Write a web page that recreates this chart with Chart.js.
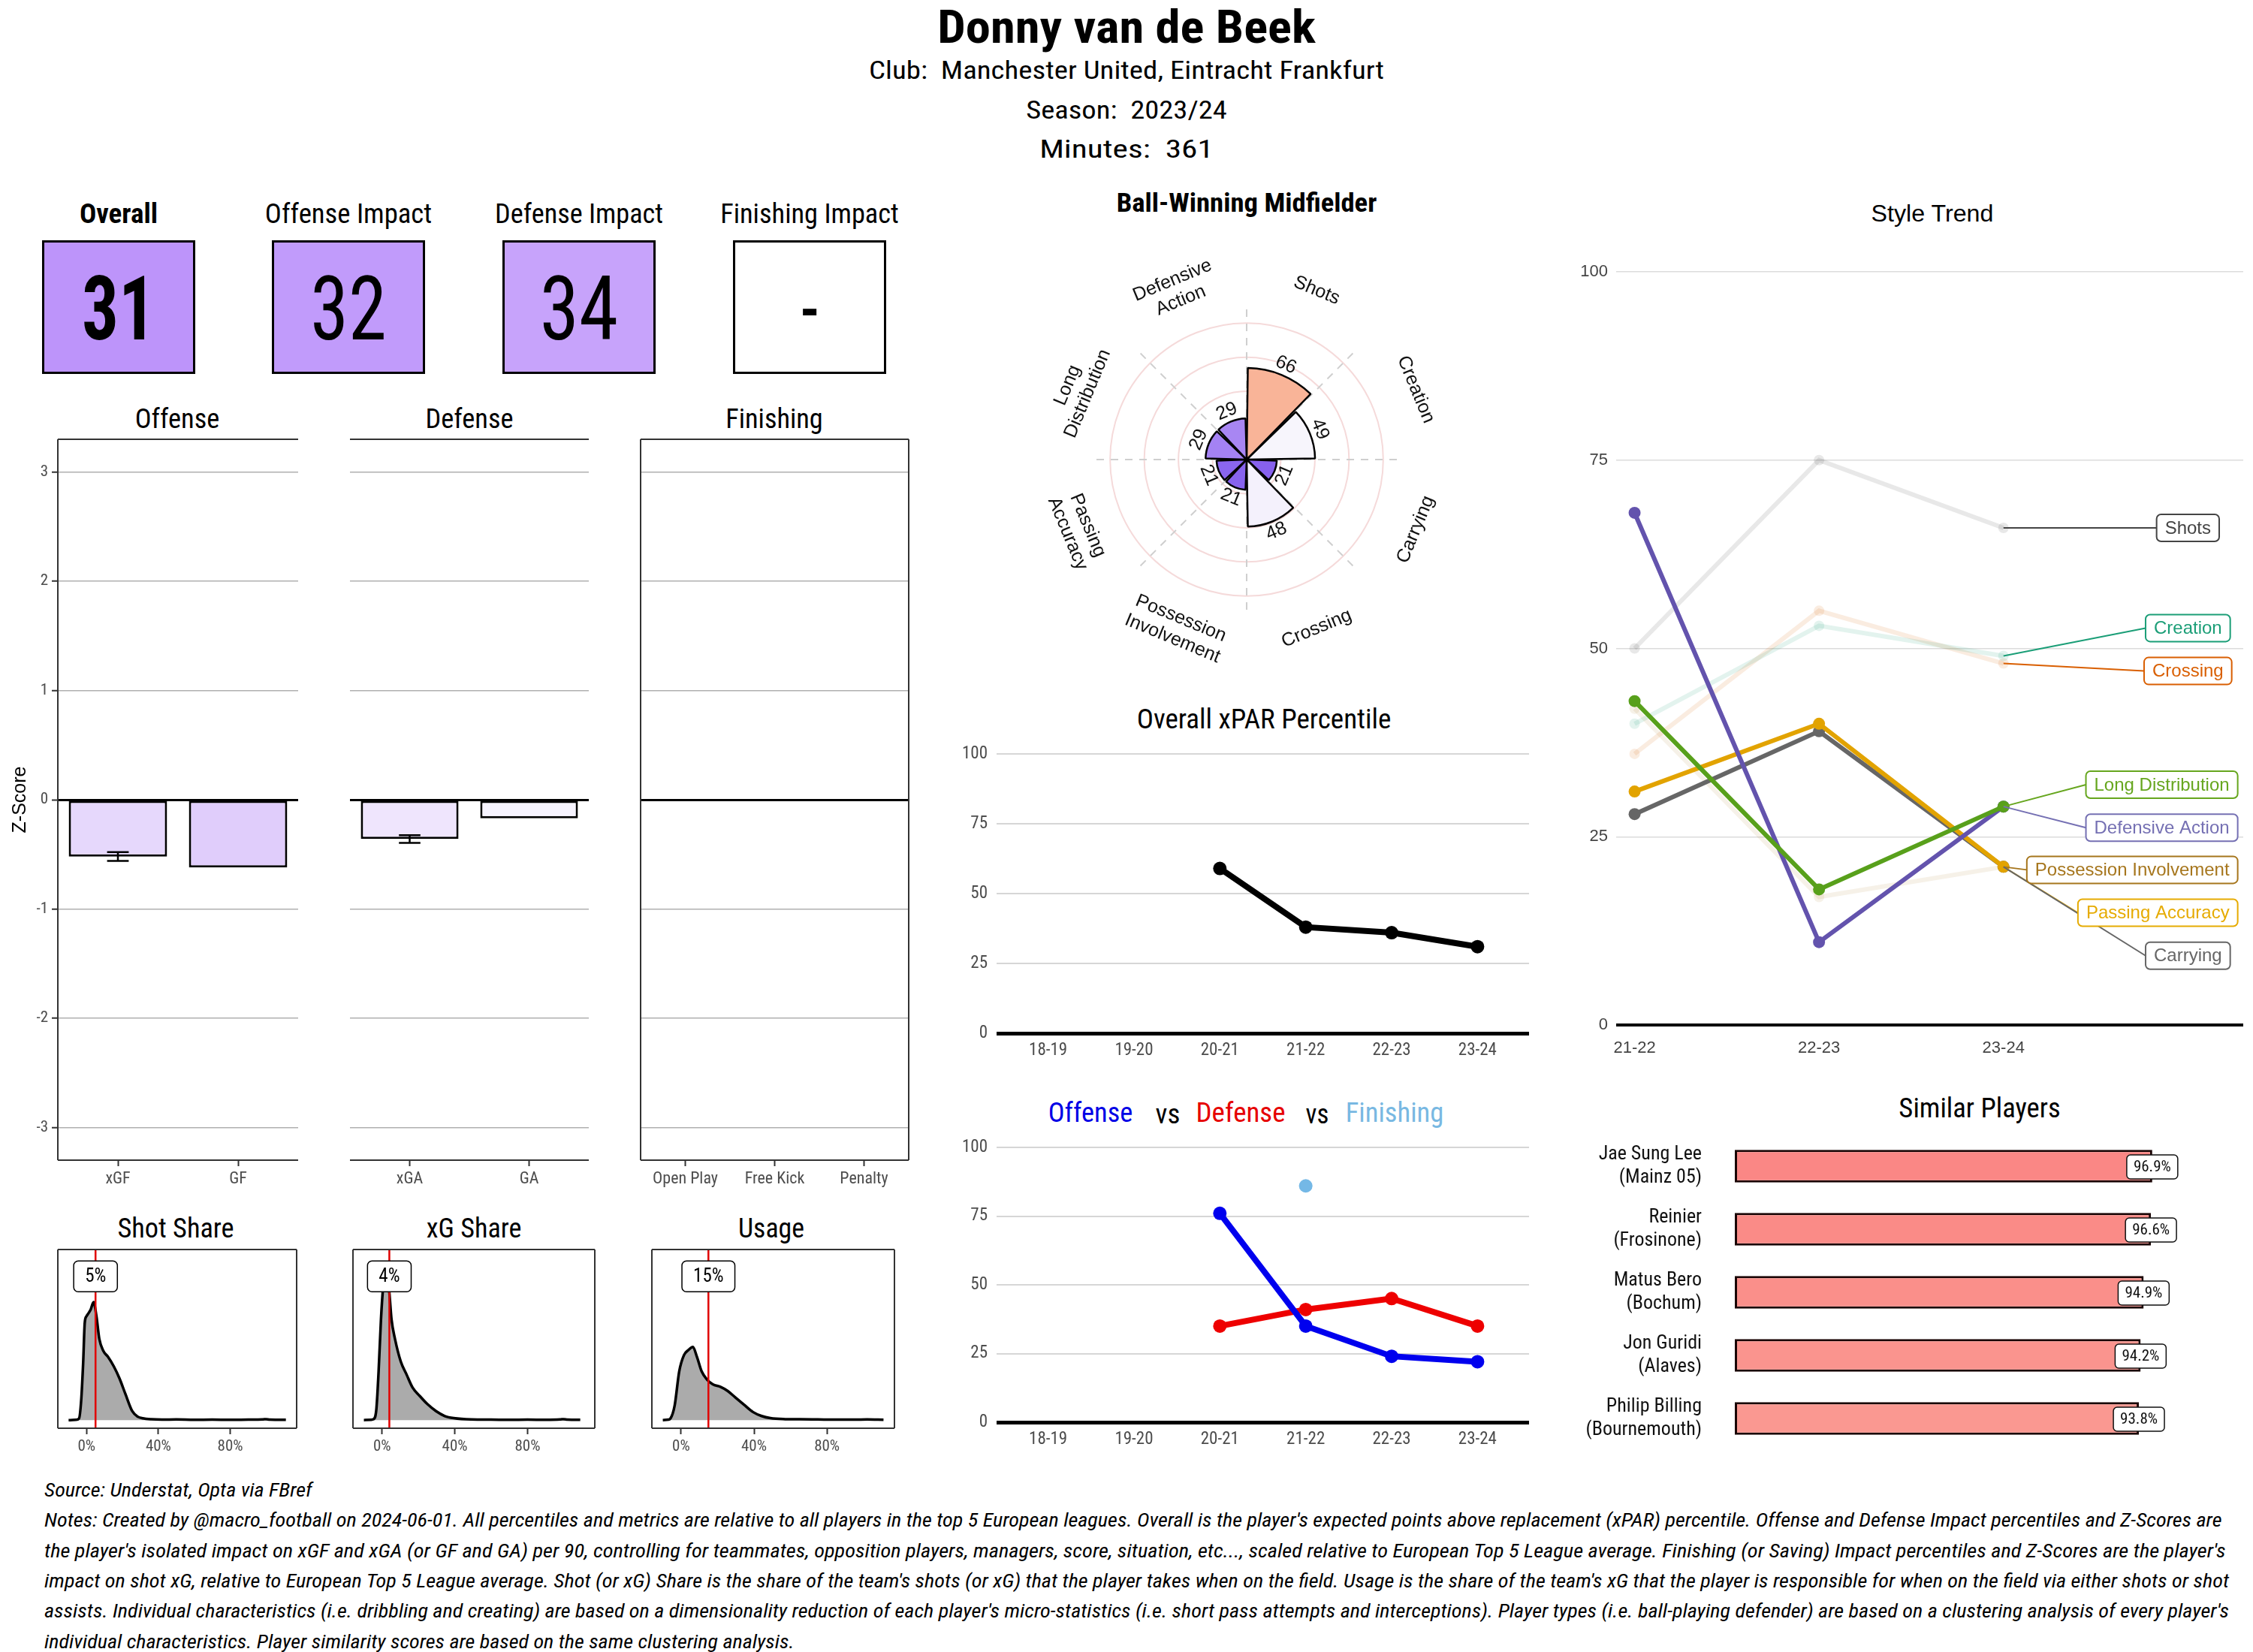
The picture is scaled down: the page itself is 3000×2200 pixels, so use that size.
<!DOCTYPE html>
<html>
<head>
<meta charset="utf-8">
<script src="https://cdn.jsdelivr.net/npm/chart.js@4.4.1/dist/chart.umd.min.js"></script>
<style>
html, body { margin: 0; padding: 0; background: #fff; }
#page { position: relative; width: 3000px; height: 2200px; overflow: hidden; background: #fff; }
.t { position: absolute; white-space: pre; line-height: 1; }
canvas { position: absolute; }
.box { position: absolute; border: 3px solid #000; box-sizing: border-box; }
</style>
</head>
<body>
<div id="page"></div>
<script>
// ---- data ----
const playerName = 'Donny van de Beek';
const infoLines = ['Club:  Manchester United, Eintracht Frankfurt', 'Season:  2023/24', 'Minutes:  361'];

const impactTitles = ['Overall', 'Offense Impact', 'Defense Impact', 'Finishing Impact'];
const impactValues = ['31', '32', '34', '-'];

const offenseCats = ['xGF', 'GF'];
const offenseZ = [-0.52, -0.62];
const offenseErr = [0.04, null];
const defenseCats = ['xGA', 'GA'];
const defenseZ = [-0.36, -0.17];
const defenseErr = [0.035, null];
const finishingCats = ['Open Play', 'Free Kick', 'Penalty'];
const finishingZ = [0, 0, 0];
const finishingErr = [null, null, null];

const shotShareX = [-0.10, -0.06, -0.042, -0.03, -0.019, -0.01, 0.0, 0.012, 0.023, 0.039, 0.055, 0.071, 0.094, 0.119, 0.152, 0.184, 0.216, 0.255, 0.287, 0.313, 0.36, 0.42, 0.5, 0.6, 0.7, 0.8, 0.9, 0.98, 1.0, 1.02, 1.11];
const shotShareY = [0.0, 0.002, 0.01, 0.12, 0.35, 0.6, 0.64, 0.66, 0.68, 0.726, 0.64, 0.5, 0.425, 0.39, 0.33, 0.255, 0.162, 0.054, 0.02, 0.011, 0.005, 0.003, 0.004, 0.002, 0.003, 0.002, 0.003, 0.004, 0.006, 0.003, 0.002];
const xgShareX = [-0.10, -0.06, -0.048, -0.032, -0.019, -0.006, 0.006, 0.023, 0.039, 0.052, 0.071, 0.103, 0.135, 0.168, 0.206, 0.248, 0.297, 0.345, 0.394, 0.49, 0.6, 0.7, 0.8, 0.9, 0.98, 1.0, 1.02, 1.09];
const xgShareY = [0.0, 0.002, 0.005, 0.06, 0.3, 0.62, 0.82, 0.95, 0.8, 0.62, 0.5, 0.36, 0.28, 0.2, 0.15, 0.1, 0.055, 0.025, 0.012, 0.004, 0.003, 0.002, 0.003, 0.002, 0.004, 0.006, 0.003, 0.002];
const usageX = [-0.10, -0.07, -0.058, -0.035, -0.01, 0.016, 0.039, 0.065, 0.087, 0.113, 0.142, 0.174, 0.216, 0.255, 0.297, 0.345, 0.394, 0.442, 0.49, 0.571, 0.65, 0.75, 0.85, 0.95, 1.02, 1.11];
const usageY = [0.0, 0.003, 0.01, 0.09, 0.3, 0.4, 0.43, 0.45, 0.39, 0.3, 0.25, 0.22, 0.205, 0.18, 0.14, 0.095, 0.05, 0.025, 0.012, 0.006, 0.005, 0.004, 0.003, 0.003, 0.004, 0.002];
const shareValues = [0.05, 0.04, 0.15];
const shareLabels = ['5%', '4%', '15%'];

const styleCats = ['Shots', 'Creation', 'Carrying', 'Crossing', 'Possession Involvement', 'Passing Accuracy', 'Long Distribution', 'Defensive Action'];
const styleVals = [66, 49, 21, 48, 21, 21, 29, 29];

const seasons = ['18-19', '19-20', '20-21', '21-22', '22-23', '23-24'];
const xparPct = [null, null, 59, 38, 36, 31];
const offensePct = [null, null, 76, 35, 24, 22];
const defensePct = [null, null, 35, 41, 45, 35];
const finishingPct = [null, null, null, 86, null, null];

const trendSeasons = ['21-22', '22-23', '23-24'];
const trendNames = ['Shots', 'Creation', 'Crossing', 'Long Distribution', 'Defensive Action', 'Possession Involvement', 'Passing Accuracy', 'Carrying'];
const trendShots = [50, 75, 66];
const trendCreation = [40, 53, 49];
const trendCrossing = [36, 55, 48];
const trendLongDist = [43, 18, 29];
const trendDefAction = [68, 11, 29];
const trendPossInv = [42, 17, 21];
const trendPassAcc = [31, 40, 21];
const trendCarrying = [28, 39, 21];

const simPlayers = [['Jae Sung Lee', '(Mainz 05)'], ['Reinier', '(Frosinone)'], ['Matus Bero', '(Bochum)'], ['Jon Guridi', '(Alaves)'], ['Philip Billing', '(Bournemouth)']];
const simScores = [96.9, 96.6, 94.9, 94.2, 93.8];

const sourceText = 'Source: Understat, Opta via FBref';
const notesLines = [
  "Notes: Created by @macro_football on 2024-06-01. All percentiles and metrics are relative to all players in the top 5 European leagues. Overall is the player's expected points above replacement (xPAR) percentile. Offense and Defense Impact percentiles and Z-Scores are",
  "the player's isolated impact on xGF and xGA (or GF and GA) per 90, controlling for teammates, opposition players, managers, score, situation, etc..., scaled relative to European Top 5 League average. Finishing (or Saving) Impact percentiles and Z-Scores are the player's",
  "impact on shot xG, relative to European Top 5 League average. Shot (or xG) Share is the share of the team's shots (or xG) that the player takes when on the field. Usage is the share of the team's xG that the player is responsible for when on the field via either shots or shot",
  "assists. Individual characteristics (i.e. dribbling and creating) are based on a dimensionality reduction of each player's micro-statistics (i.e. short pass attempts and interceptions). Player types (i.e. ball-playing defender) are based on a clustering analysis of every player's",
  "individual characteristics. Player similarity scores are based on the same clustering analysis."
];

// ---- fonts ----
function hasFont(name) {
  const c = document.createElement('canvas').getContext('2d');
  const s = 'abcdefghijklmnopqrstuvwxyz0123456789';
  c.font = '40px monospace';
  const a = c.measureText(s).width;
  c.font = '40px "' + name + '", monospace';
  return c.measureText(s).width !== a;
}
const narrow = ['Roboto Condensed', 'Liberation Sans Narrow', 'DejaVu Sans Condensed', 'Arial Narrow'].find(hasFont);
const CF = narrow ? '"' + narrow + '", Roboto, sans-serif' : 'Roboto, "Liberation Sans", sans-serif';
const AF = '"Liberation Sans", Arial, sans-serif';

const page = document.getElementById('page');

function txt(s, x, y, size, o = {}) {
  const d = document.createElement('div');
  d.className = 't';
  d.textContent = s;
  d.style.fontFamily = o.family || CF;
  d.style.fontSize = size + 'px';
  d.style.fontWeight = o.bold ? '700' : '400';
  if (o.italic) d.style.fontStyle = 'italic';
  d.style.color = o.color || '#000';
  d.style.left = x + 'px';
  d.style.top = y + 'px';
  page.appendChild(d);
  const sx = o.width ? o.width / d.offsetWidth : 1;
  if (o.align === 'left') {
    d.style.transformOrigin = '0 50%';
    d.style.transform = 'translateY(-50%) scaleX(' + sx + ')';
  } else {
    d.style.transform = 'translate(-50%,-50%) scaleX(' + sx + ')';
  }
  return d;
}

// ---- header ----
txt(playerName, 1500, 36, 62, { bold: true, width: 504 });
txt(infoLines[0], 1500, 93, 34, { width: 686 });
txt(infoLines[1], 1500, 146, 34, { width: 268 });
txt(infoLines[2], 1500, 198, 34, { width: 232 });

// impact boxes
const boxLefts = [56, 362, 669, 976];
const boxFills = ['#bd94fa', '#c19bfb', '#c7a3fb', '#ffffff'];
const titleW = [104, 222, 224, 238];
const numW = [98, 102, 105, 22];
impactTitles.forEach((t, i) => {
  const cx = boxLefts[i] + 102;
  txt(t, cx, 284, 37, { bold: i === 0, width: titleW[i] });
  const b = document.createElement('div');
  b.className = 'box';
  b.style.left = boxLefts[i] + 'px';
  b.style.top = '320px';
  b.style.width = '204px';
  b.style.height = '178px';
  b.style.background = boxFills[i];
  page.appendChild(b);
  txt(impactValues[i], cx, 412, 118, { bold: i === 0, width: numW[i] });
});

// panel titles
txt('Offense', 236, 558, 36, { width: 113 });
txt('Defense', 625, 558, 36, { width: 117 });
txt('Finishing', 1031, 558, 36, { width: 130 });
txt('Shot Share', 234, 1635, 37, { width: 155 });
txt('xG Share', 631, 1635, 37, { width: 127 });
txt('Usage', 1027, 1635, 37, { width: 88 });
txt('Ball-Winning Midfielder', 1660, 270, 35, { bold: true, width: 347 });
txt('Style Trend', 2573, 284, 31, { family: AF, width: 163 });
txt('Overall xPAR Percentile', 1683, 958, 36, { width: 339 });
txt('Offense', 1452, 1482, 36, { color: '#0000e6', width: 113 });
txt('vs', 1555, 1484, 36, { width: 33 });
txt('Defense', 1652, 1482, 36, { color: '#e60000', width: 119 });
txt('vs', 1754, 1484, 36, { width: 31 });
txt('Finishing', 1857, 1482, 36, { color: '#78b8e2', width: 131 });
txt('Similar Players', 2636, 1476, 36, { width: 215 });

txt(sourceText, 59, 1984, 25, { italic: true, align: 'left', width: 357 });
const noteY = [2024, 2065, 2105, 2145, 2186];
const noteW = [2899, 2905, 2909, 2909, 999];
notesLines.forEach((l, i) => txt(l, 59, noteY[i], 25, { italic: true, align: 'left', width: noteW[i] }));

// ---- chart helpers ----
Chart.defaults.font.family = CF;
Chart.defaults.color = '#4d4d4d';
Chart.defaults.animation = false;
Chart.defaults.responsive = false;
Chart.defaults.plugins.legend.display = false;
Chart.defaults.plugins.tooltip.enabled = false;

function mk(left, top, w, h) {
  const c = document.createElement('canvas');
  c.width = w; c.height = h;
  c.style.left = left + 'px'; c.style.top = top + 'px';
  c.style.width = w + 'px'; c.style.height = h + 'px';
  page.appendChild(c);
  return c;
}

function rrect(ctx, x, y, w, h, r) {
  ctx.beginPath();
  ctx.moveTo(x + r, y);
  ctx.arcTo(x + w, y, x + w, y + h, r);
  ctx.arcTo(x + w, y + h, x, y + h, r);
  ctx.arcTo(x, y + h, x, y, r);
  ctx.arcTo(x, y, x + w, y, r);
  ctx.closePath();
}

const frame = (sides) => ({
  id: 'frame',
  afterDraw(chart) {
    const { ctx, chartArea: a } = chart;
    ctx.save();
    ctx.strokeStyle = '#333';
    ctx.lineWidth = 2;
    ctx.beginPath();
    if (sides.includes('t')) { ctx.moveTo(a.left, a.top); ctx.lineTo(a.right, a.top); }
    if (sides.includes('b')) { ctx.moveTo(a.left, a.bottom); ctx.lineTo(a.right, a.bottom); }
    if (sides.includes('l')) { ctx.moveTo(a.left, a.top); ctx.lineTo(a.left, a.bottom); }
    if (sides.includes('r')) { ctx.moveTo(a.right, a.top); ctx.lineTo(a.right, a.bottom); }
    ctx.stroke();
    ctx.restore();
  }
});

const errbars = (vals, errs) => ({
  id: 'errbars',
  afterDatasetsDraw(chart) {
    const { ctx, scales: { y } } = chart;
    const meta = chart.getDatasetMeta(0);
    ctx.save();
    ctx.strokeStyle = '#000';
    ctx.lineWidth = 2.5;
    errs.forEach((e, i) => {
      if (e === null) return;
      const el = meta.data[i];
      const px = el.x, hw = el.width * 0.11;
      const y1 = y.getPixelForValue(vals[i] + e), y2 = y.getPixelForValue(vals[i] - e);
      ctx.beginPath();
      ctx.moveTo(px, y1); ctx.lineTo(px, y2);
      ctx.moveTo(px - hw, y1); ctx.lineTo(px + hw, y1);
      ctx.moveTo(px - hw, y2); ctx.lineTo(px + hw, y2);
      ctx.stroke();
    });
    ctx.restore();
  }
});

// ---- z-score facets ----
function facet(left, width, cats, vals, errs, fills, o) {
  const n = cats.length;
  new Chart(mk(left, 560, width, 1040), {
    type: 'bar',
    data: {
      labels: cats,
      datasets: [{
        data: vals,
        backgroundColor: fills, borderColor: '#000', borderWidth: 3,
        borderSkipped: false, barPercentage: 0.9 * n / (n + 0.2), categoryPercentage: 1
      }]
    },
    options: {
      layout: { padding: { top: 25, left: o.padL, right: 3 } },
      scales: {
        x: {
          afterFit: s => { s.height = 55; },
          ticks: { font: { size: 22 }, color: '#4d4d4d', padding: 4, maxRotation: 0, autoSkip: false },
          grid: { offset: false, drawOnChartArea: false, tickLength: 8, tickColor: '#333', tickWidth: 2 },
          border: { display: false }
        },
        y: {
          min: -3.3, max: 3.3,
          afterFit: s => { s.width = o.yW; },
          ticks: { stepSize: 1, includeBounds: false, display: o.yTicks, font: { size: 21 }, color: '#4d4d4d', padding: 5 },
          grid: {
            color: g => g.tick.value === 0 ? '#000' : '#b0b0b0',
            lineWidth: g => g.tick.value === 0 ? 3 : 1.5,
            drawTicks: o.yTicks, tickLength: 8, tickColor: '#333', tickWidth: 2
          },
          border: { display: false },
          title: { display: o.yTicks, text: 'Z-Score', font: { size: 25, family: AF }, color: '#000', padding: { top: 12, bottom: 0 } }
        }
      }
    },
    plugins: [frame(o.sides), errbars(vals, errs)]
  });
}
facet(0, 400, offenseCats, offenseZ, offenseErr, ['#e6d8fc', '#e0cdfb'], { padL: 0, yW: 77, yTicks: true, sides: 'tlb' });
facet(463, 324, defenseCats, defenseZ, defenseErr, ['#efe5fd', '#f6f3fe'], { padL: 3, yW: 0, yTicks: false, sides: 'tb' });
facet(850, 363, finishingCats, finishingZ, finishingErr, ['#ffffff', '#ffffff', '#ffffff'], { padL: 3, yW: 0, yTicks: false, sides: 'tlrb' });

// ---- share densities ----
const marker = (val, label) => ({
  id: 'marker',
  afterDatasetsDraw(chart) {
    const { ctx, chartArea: a, scales: { x, y } } = chart;
    const px = x.getPixelForValue(val);
    ctx.save();
    ctx.strokeStyle = '#e00000';
    ctx.lineWidth = 2.5;
    ctx.beginPath(); ctx.moveTo(px, a.top); ctx.lineTo(px, a.bottom); ctx.stroke();
    ctx.font = '25px ' + CF;
    const w = ctx.measureText(label).width + 30, h = 41;
    const by = y.getPixelForValue(0.885);
    rrect(ctx, px - w / 2, by - h / 2, w, h, 6);
    ctx.fillStyle = '#fff'; ctx.fill();
    ctx.strokeStyle = '#000'; ctx.lineWidth = 1.5; ctx.stroke();
    ctx.fillStyle = '#000'; ctx.textAlign = 'center'; ctx.textBaseline = 'middle';
    ctx.fillText(label, px, by + 1);
    ctx.restore();
  }
});
function density(areaLeft, areaRight, xs, ys, val, label) {
  new Chart(mk(areaLeft - 5, 1650, areaRight - areaLeft + 10, 300), {
    type: 'line',
    data: {
      datasets: [{
        data: xs.map((x, i) => ({ x, y: ys[i] })),
        borderColor: '#000', borderWidth: 3.5, backgroundColor: '#ababab',
        fill: 'origin', pointRadius: 0, cubicInterpolationMode: 'monotone'
      }]
    },
    options: {
      layout: { padding: { top: 14, left: 5, right: 5 } },
      scales: {
        x: {
          type: 'linear', min: -0.16, max: 1.17,
          afterBuildTicks: s => { s.ticks = [0, 0.4, 0.8].map(v => ({ value: v })); },
          afterFit: s => { s.height = 48; },
          ticks: { callback: v => Math.round(v * 100) + '%', font: { size: 21 }, color: '#4d4d4d', padding: 4, maxRotation: 0 },
          grid: { drawOnChartArea: false, tickLength: 8, tickColor: '#333', tickWidth: 2 },
          border: { display: false }
        },
        y: { display: false, min: -0.05, max: 1.05 }
      }
    },
    plugins: [frame('tlrb'), marker(val, label)]
  });
}
density(77, 395, shotShareX, shotShareY, shareValues[0], shareLabels[0]);
density(470, 792, xgShareX, xgShareY, shareValues[1], shareLabels[1]);
density(868, 1191, usageX, usageY, shareValues[2], shareLabels[2]);

// ---- style radar ----
const radarLabels = [['Shots'], ['Creation'], ['Carrying'], ['Crossing'], ['Possession', 'Involvement'], ['Passing', 'Accuracy'], ['Long', 'Distribution'], ['Defensive', 'Action']];
const radarFills = ['#f9b498', '#f7f5fc', '#8761ee', '#f4f1fc', '#8763ee', '#8a66ef', '#a482f3', '#a886f3'];
const radarText = {
  id: 'radarText',
  afterDatasetsDraw(chart) {
    const r = chart.scales.r, ctx = chart.ctx;
    const half = Math.PI / styleCats.length;
    ctx.save();
    ctx.textAlign = 'center';
    ctx.textBaseline = 'middle';
    ctx.fillStyle = '#111';
    const put = (lines, p, deg, size, lh) => {
      const rot = (((deg + 90) % 180) - 90) * Math.PI / 180;
      ctx.save();
      ctx.translate(p.x, p.y);
      ctx.rotate(rot);
      ctx.font = size + 'px ' + AF;
      lines.forEach((l, k) => ctx.fillText(l, 0, (k - (lines.length - 1) / 2) * lh));
      ctx.restore();
    };
    styleCats.forEach((_, i) => {
      const deg = ((r.getIndexAngle(i) + half) * 180 / Math.PI) % 360;
      put(radarLabels[i], r.getPointPosition(i, r.getDistanceFromCenterForValue(134), half), deg, 25, 29);
      put([String(styleVals[i])], r.getPointPosition(i, r.getDistanceFromCenterForValue(styleVals[i] + 9), half), deg, 25, 0);
    });
    ctx.restore();
  }
};
new Chart(mk(1360, 312, 600, 600), {
  type: 'polarArea',
  data: {
    labels: styleCats,
    datasets: [{ data: styleVals, backgroundColor: radarFills, borderColor: '#000', borderWidth: 2.5, spacing: 4 }]
  },
  options: {
    layout: { padding: 100 },
    scales: {
      r: {
        min: 0, max: 110,
        ticks: { display: false, stepSize: 25 },
        grid: { circular: true, color: g => (g.tick.value > 100 ? 'rgba(0,0,0,0)' : '#f5dada'), lineWidth: 2 },
        angleLines: { display: true, color: '#cfcfcf', lineWidth: 2, borderDash: [10, 9] },
        pointLabels: { display: false }
      }
    }
  },
  plugins: [radarText]
});

// ---- season percentile lines ----
function seasonChart(areaTop, areaBottom, series) {
  const top = areaTop - 30;
  const h = areaBottom + 44 - top;
  new Chart(mk(1270, top, 775, h), {
    type: 'line',
    data: {
      datasets: series.map(s => ({
        data: s.vals.map((v, i) => ({ x: i + 1, y: v })).filter(p => p.y !== null),
        borderColor: s.color, backgroundColor: s.color, borderWidth: 8,
        pointRadius: s.r, pointBorderWidth: 0, showLine: s.line
      }))
    },
    options: {
      layout: { padding: { top: 30, right: 5 } },
      scales: {
        x: {
          type: 'linear', min: 0.4, max: 6.6,
          afterBuildTicks: s => { s.ticks = seasons.map((_, i) => ({ value: i + 1 })); },
          afterFit: s => { s.height = 44; },
          ticks: { callback: v => seasons[v - 1], font: { size: 23 }, color: '#4d4d4d', padding: 9, maxRotation: 0, autoSkip: false },
          grid: { display: false, drawTicks: false },
          border: { display: false }
        },
        y: {
          min: 0, max: 100,
          afterFit: s => { s.width = 57; },
          ticks: { stepSize: 25, font: { size: 23 }, color: '#4d4d4d', padding: 12 },
          grid: { color: g => g.tick.value === 0 ? '#000' : '#d6d6d6', lineWidth: g => g.tick.value === 0 ? 5 : 2, drawTicks: false },
          border: { display: false }
        }
      }
    }
  });
}
seasonChart(1004, 1376, [{ vals: xparPct, color: '#000', r: 9, line: true }]);
seasonChart(1528, 1894, [
  { vals: finishingPct, color: '#74b8e6', r: 9, line: false },
  { vals: offensePct, color: '#0000ee', r: 9, line: true },
  { vals: defensePct, color: '#ee0000', r: 9, line: true }
]);

// ---- style trend ----
const trendValues = [trendShots, trendCreation, trendCrossing, trendLongDist, trendDefAction, trendPossInv, trendPassAcc, trendCarrying];
const trendLabelColors = ['#444444', '#1b9e77', '#d95f02', '#66a61e', '#7570b3', '#a6761d', '#e6ab02', '#666666'];
const trendLineColors = ['rgba(68,68,68,0.12)', 'rgba(27,158,119,0.12)', 'rgba(217,95,2,0.12)', '#58a01b', '#6353ad', 'rgba(166,118,29,0.10)', '#e2a300', '#666666'];
const trendBold = [false, false, false, true, true, false, true, true];
const trendLabelY = [66, 52.7, 47.0, 31.9, 26.2, 20.6, 14.9, 9.2];
const trendLabels = {
  id: 'trendLabels',
  afterDatasetsDraw(chart) {
    const { ctx, scales: { x, y } } = chart;
    ctx.save();
    ctx.font = '24px ' + AF;
    const boxes = trendNames.map((nm, i) => {
      const w = ctx.measureText(nm).width + 22, h = 36;
      let cx = x.getPixelForValue(4.0);
      const lim = x.getPixelForValue(4.27);
      if (cx + w / 2 > lim) cx = lim - w / 2;
      return { nm, w, h, cx, cy: y.getPixelForValue(trendLabelY[i]), px: x.getPixelForValue(3), py: y.getPixelForValue(trendValues[i][2]), c: trendLabelColors[i] };
    });
    boxes.forEach(b => {
      ctx.strokeStyle = b.c; ctx.lineWidth = 2;
      ctx.beginPath(); ctx.moveTo(b.px, b.py); ctx.lineTo(b.cx - b.w / 2, b.cy); ctx.stroke();
    });
    boxes.forEach(b => {
      rrect(ctx, b.cx - b.w / 2, b.cy - b.h / 2, b.w, b.h, 6);
      ctx.fillStyle = '#fff'; ctx.fill();
      ctx.strokeStyle = b.c; ctx.lineWidth = 2; ctx.stroke();
      ctx.fillStyle = b.c; ctx.textAlign = 'center'; ctx.textBaseline = 'middle';
      ctx.fillText(b.nm, b.cx, b.cy + 1);
    });
    ctx.restore();
  }
};
new Chart(mk(2080, 336, 915, 1074), {
  type: 'line',
  data: {
    datasets: trendNames.map((nm, i) => ({
      label: nm,
      data: trendValues[i].map((v, k) => ({ x: k + 1, y: v })),
      borderColor: trendLineColors[i], backgroundColor: trendLineColors[i],
      borderWidth: 6, pointRadius: trendBold[i] ? 8 : 7, pointBorderWidth: 0,
      order: trendBold[i] ? 1 : 2
    }))
  },
  options: {
    layout: { padding: { top: 26, right: 7 } },
    scales: {
      x: {
        type: 'linear', min: 0.9, max: 4.3,
        afterBuildTicks: s => { s.ticks = trendSeasons.map((_, i) => ({ value: i + 1 })); },
        afterFit: s => { s.height = 45; },
        ticks: { callback: v => trendSeasons[v - 1], font: { size: 22, family: AF }, color: '#444', padding: 18, maxRotation: 0, autoSkip: false },
        grid: { display: false, drawTicks: false },
        border: { display: false }
      },
      y: {
        min: 0, max: 100,
        afterFit: s => { s.width = 72; },
        ticks: { stepSize: 25, font: { size: 22, family: AF }, color: '#444', padding: 11 },
        grid: { color: g => g.tick.value === 0 ? '#000' : '#dcdcdc', lineWidth: g => g.tick.value === 0 ? 4 : 1.5, drawTicks: false },
        border: { display: false }
      }
    }
  },
  plugins: [trendLabels]
});

// ---- similar players ----
const simLabels = {
  id: 'simLabels',
  afterDatasetsDraw(chart) {
    const ctx = chart.ctx;
    const meta = chart.getDatasetMeta(0);
    ctx.save();
    ctx.font = '21px ' + CF;
    meta.data.forEach((el, i) => {
      const s = simScores[i].toFixed(1) + '%';
      const w = ctx.measureText(s).width + 18, h = 32;
      rrect(ctx, el.x - w / 2, el.y - h / 2 + 1, w, h, 5);
      ctx.fillStyle = '#fff'; ctx.fill();
      ctx.strokeStyle = '#111'; ctx.lineWidth = 1.5; ctx.stroke();
      ctx.fillStyle = '#111'; ctx.textAlign = 'center'; ctx.textBaseline = 'middle';
      ctx.fillText(s, el.x, el.y + 2);
    });
    ctx.restore();
  }
};
new Chart(mk(2050, 1471, 941, 500), {
  type: 'bar',
  data: {
    labels: simPlayers,
    datasets: [{
      data: simScores,
      backgroundColor: ['#fa8785', '#fa8b87', '#fa8f8a', '#fa948e', '#fa9891'],
      borderColor: '#1a0505', borderWidth: 3, borderSkipped: false,
      barPercentage: 0.52, categoryPercentage: 1
    }]
  },
  options: {
    indexAxis: 'y',
    layout: { padding: { top: 40, right: 50, bottom: 40 } },
    scales: {
      x: { display: false, min: 0, max: 110 },
      y: {
        afterFit: s => { s.width = 260; },
        ticks: { font: { size: 26 }, color: '#111', padding: 0 },
        grid: { display: false, drawTicks: true, tickLength: 44 },
        border: { display: false }
      }
    }
  },
  plugins: [simLabels]
});
</script>
</body>
</html>
